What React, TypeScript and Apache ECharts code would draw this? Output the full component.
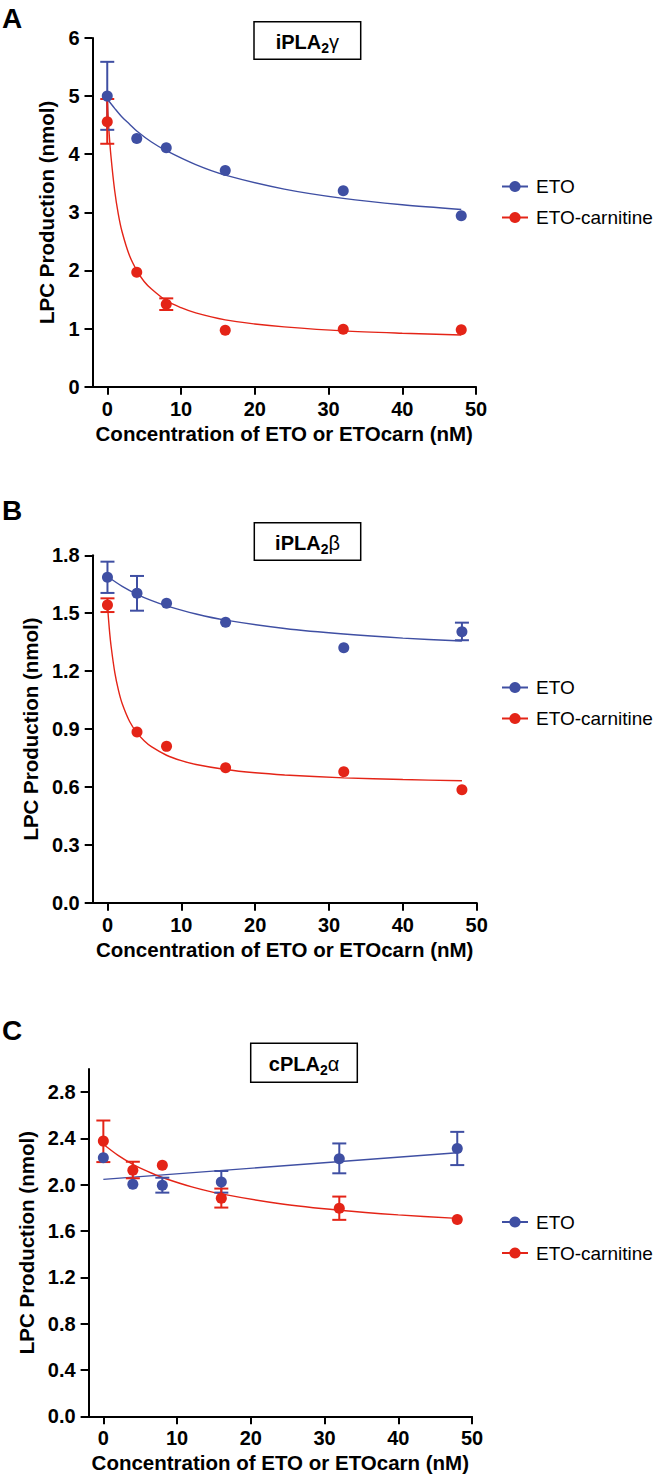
import React, { useEffect, useRef } from 'react';
import * as echarts from 'echarts';

const BLUE = '#3F4FA3';
const RED = '#E42417';
const FONT = '"Liberation Sans", Arial, Helvetica, sans-serif';

// shared concentrations (nM)
const conc = [0, 4, 8, 16, 32, 48];
const xTicks = [0, 10, 20, 30, 40, 50];

// ---------- Panel A : iPLA2γ ----------
const aYTicks = [0, 1, 2, 3, 4, 5, 6];
const aEto = [5.0, 4.27, 4.11, 3.72, 3.37, 2.94];
const aCarn = [4.56, 1.97, 1.42, 0.97, 0.99, 0.98];
const aEtoErr = [[0, 4.42, 5.59]];
const aCarnErr = [[0, 4.18, 4.95], [8, 1.32, 1.52]];
const aEtoFitX = [0, 1, 2, 3, 4, 6, 8, 12, 16, 24, 32, 40, 48];
const aEtoFitY = [4.95, 4.79, 4.64, 4.52, 4.40, 4.21, 4.06, 3.82, 3.64, 3.40, 3.24, 3.13, 3.05];
const aCarnFitX = [0, 0.25, 0.5, 1, 1.5, 2, 3, 4, 5, 6, 8, 10, 12, 16, 20, 24, 32, 40, 48];
const aCarnFitY = [4.9, 4.37, 3.97, 3.38, 2.97, 2.67, 2.26, 2.0, 1.81, 1.68, 1.48, 1.36, 1.27, 1.15, 1.08, 1.03, 0.96, 0.92, 0.89];

// ---------- Panel B : iPLA2β ----------
const bYTicks = [0, 0.3, 0.6, 0.9, 1.2, 1.5, 1.8];
const bEto = [1.686, 1.603, 1.551, 1.453, 1.321, 1.404];
const bCarn = [1.542, 0.884, 0.81, 0.699, 0.679, 0.585];
const bEtoErr = [[0, 1.605, 1.767], [4, 1.513, 1.693], [48, 1.36, 1.451]];
const bCarnErr = [[0, 1.506, 1.577]];
const bEtoFitX = [0, 2, 4, 6, 8, 12, 16, 24, 32, 40, 48];
const bEtoFitY = [1.69, 1.639, 1.598, 1.565, 1.538, 1.496, 1.464, 1.421, 1.392, 1.371, 1.356];
const bCarnFitX = [0, 0.25, 0.5, 1, 1.5, 2, 3, 4, 5, 6, 8, 10, 12, 16, 20, 24, 32, 40, 48];
const bCarnFitY = [1.54, 1.419, 1.326, 1.191, 1.099, 1.031, 0.939, 0.88, 0.838, 0.807, 0.764, 0.736, 0.716, 0.69, 0.673, 0.662, 0.647, 0.638, 0.632];

// ---------- Panel C : cPLA2α ----------
const cYTicks = [0, 0.4, 0.8, 1.2, 1.6, 2.0, 2.4, 2.8];
const cEto = [2.233, 2.004, 1.996, 2.024, 2.225, 2.314];
const cCarn = [2.377, 2.125, 2.168, 1.884, 1.798, 1.7];
const cEtoErr = [[8, 1.932, 2.061], [16, 1.932, 2.119], [32, 2.099, 2.357], [48, 2.17, 2.457]];
const cCarnErr = [[0, 2.196, 2.555], [4, 2.056, 2.199], [16, 1.803, 1.967], [32, 1.697, 1.898]];
const cEtoFitX = [0, 48];
const cEtoFitY = [2.047, 2.276];
const cCarnFitX = [0, 2, 4, 6, 8, 12, 16, 24, 32, 40, 48];
const cCarnFitY = [2.35, 2.254, 2.177, 2.115, 2.063, 1.982, 1.921, 1.836, 1.78, 1.74, 1.71];

const zip = (xs: number[], ys: number[]) => xs.map((x, i) => [x, ys[i]]);

const panels = [
  {
    letter: 'A', letterY: 18, title: 'iPLA', greek: 'γ',
    box: { x: 254, y: 21.7, w: 106.7, h: 37.6 },
    grid: { left: 92.5, top: 38, width: 383.5, height: 348.7 },
    yMax: 6, yTicks: aYTicks, digits: 0, legendTop: 172,
    eto: aEto, carn: aCarn, etoErr: aEtoErr, carnErr: aCarnErr,
    etoFit: zip(aEtoFitX, aEtoFitY), carnFit: zip(aCarnFitX, aCarnFitY),
  },
  {
    letter: 'B', letterY: 510, title: 'iPLA', greek: 'β',
    box: { x: 254.3, y: 522.7, w: 106.4, h: 37.6 },
    grid: { left: 92.7, top: 555.3, width: 384, height: 347.4 },
    yMax: 1.8, yTicks: bYTicks, digits: 1, legendTop: 673,
    eto: bEto, carn: bCarn, etoErr: bEtoErr, carnErr: bCarnErr,
    etoFit: zip(bEtoFitX, bEtoFitY), carnFit: zip(bCarnFitX, bCarnFitY),
  },
  {
    letter: 'C', letterY: 1030, title: 'cPLA', greek: 'α',
    box: { x: 250.7, y: 1043.3, w: 106.6, h: 39 },
    grid: { left: 88.6, top: 1069, width: 383.4, height: 347.3 },
    yMax: 3.0, yTicks: cYTicks, digits: 1, legendTop: 1207.5,
    eto: cEto, carn: cCarn, etoErr: cEtoErr, carnErr: cCarnErr,
    etoFit: zip(cEtoFitX, cEtoFitY), carnFit: zip(cCarnFitX, cCarnFitY),
  },
];

const errRender = (color: string) => (params: any, api: any) => {
  const x = api.value(0);
  const lo = api.coord([x, api.value(1)]);
  const hi = api.coord([x, api.value(2)]);
  const w = 7;
  const style = { stroke: color, lineWidth: 2, fill: 'none' };
  return {
    type: 'group',
    children: [
      { type: 'line', shape: { x1: lo[0], y1: lo[1], x2: hi[0], y2: hi[1] }, style },
      { type: 'line', shape: { x1: lo[0] - w, y1: lo[1], x2: lo[0] + w, y2: lo[1] }, style },
      { type: 'line', shape: { x1: hi[0] - w, y1: hi[1], x2: hi[0] + w, y2: hi[1] }, style },
    ],
  };
};

function buildOption() {
  const axisLine = { show: true, onZero: false, lineStyle: { color: '#000', width: 2 } };
  const axisTickBase = { show: true, length: 8, lineStyle: { color: '#000', width: 2 } };
  const labelBase = { color: '#000', fontSize: 20, fontWeight: 'bold', fontFamily: FONT };
  const nameStyle = { color: '#000', fontSize: 20.5, fontWeight: 'bold', fontFamily: FONT };

  const grid: any[] = [];
  const xAxis: any[] = [];
  const yAxis: any[] = [];
  const legend: any[] = [];
  const curveSeries: any[] = [];
  const errSeries: any[] = [];
  const pointSeries: any[] = [];
  const graphic: any[] = [];

  panels.forEach((p, i) => {
    grid.push({ ...p.grid, containLabel: false });
    xAxis.push({
      type: 'value', gridIndex: i, min: -2, max: 50,
      axisLine, splitLine: { show: false },
      axisTick: { ...axisTickBase, customValues: xTicks },
      axisLabel: { ...labelBase, margin: 12, customValues: xTicks },
      name: 'Concentration of ETO or ETOcarn (nM)', nameLocation: 'middle', nameGap: 36,
      nameTextStyle: nameStyle,
    });
    yAxis.push({
      type: 'value', gridIndex: i, min: 0, max: p.yMax,
      axisLine, splitLine: { show: false },
      axisTick: { ...axisTickBase, customValues: p.yTicks },
      axisLabel: {
        ...labelBase, margin: 13, customValues: p.yTicks,
        formatter: (v: number) => v.toFixed(p.digits),
      },
      name: 'LPC Production (nmol)', nameLocation: 'middle', nameGap: 27,
      nameTextStyle: nameStyle,
    });
    legend.push({
      orient: 'vertical', left: 496, top: p.legendTop,
      itemWidth: 26, itemHeight: 14, itemGap: 12,
      selectedMode: false,
      data: ['ETO', 'ETO-carnitine'],
      textStyle: { fontSize: 19, color: '#000', fontFamily: FONT, lineHeight: 19, padding: [0, 0, 0, 3] },
    });
    curveSeries.push(
      {
        type: 'line', name: 'ETO', xAxisIndex: i, yAxisIndex: i, data: p.etoFit,
        symbol: 'circle', showSymbol: false, smooth: 0.3, silent: true,
        lineStyle: { color: BLUE, width: 1.4 }, itemStyle: { color: BLUE }, z: 2,
      },
      {
        type: 'line', name: 'ETO-carnitine', xAxisIndex: i, yAxisIndex: i, data: p.carnFit,
        symbol: 'circle', showSymbol: false, smooth: 0.3, silent: true,
        lineStyle: { color: RED, width: 1.4 }, itemStyle: { color: RED }, z: 2,
      },
    );
    errSeries.push(
      {
        type: 'custom', name: 'ETO error', xAxisIndex: i, yAxisIndex: i, data: p.etoErr,
        encode: { x: 0, y: [1, 2] }, renderItem: errRender(BLUE), silent: true, z: 3,
      },
      {
        type: 'custom', name: 'ETO-carnitine error', xAxisIndex: i, yAxisIndex: i, data: p.carnErr,
        encode: { x: 0, y: [1, 2] }, renderItem: errRender(RED), silent: true, z: 3,
      },
    );
    pointSeries.push(
      {
        type: 'scatter', name: 'ETO', xAxisIndex: i, yAxisIndex: i, data: zip(conc, p.eto),
        symbol: 'circle', symbolSize: 11, itemStyle: { color: BLUE, opacity: 1 }, silent: true, z: 4,
      },
      {
        type: 'scatter', name: 'ETO-carnitine', xAxisIndex: i, yAxisIndex: i, data: zip(conc, p.carn),
        symbol: 'circle', symbolSize: 11, itemStyle: { color: RED, opacity: 1 }, silent: true, z: 4,
      },
    );
    graphic.push(
      {
        type: 'text', left: 2, top: p.letterY - 14,
        style: { text: p.letter, fontSize: 28, fontWeight: 'bold', fontFamily: FONT, fill: '#000' },
      },
      {
        type: 'rect', shape: { x: p.box.x, y: p.box.y, width: p.box.w, height: p.box.h },
        style: { fill: '#fff', stroke: '#000', lineWidth: 1.5 },
      },
      {
        type: 'text', x: p.box.x + p.box.w / 2, y: p.box.y + p.box.h / 2 + 1,
        style: {
          text: `{m|${p.title}}{s|2}{g|${p.greek}}`,
          align: 'center', verticalAlign: 'middle',
          rich: {
            m: { fontSize: 20, fontWeight: 'bold', fontFamily: FONT, fill: '#000', lineHeight: 26, verticalAlign: 'middle' },
            s: { fontSize: 14, fontWeight: 'bold', fontFamily: FONT, fill: '#000', lineHeight: 26, verticalAlign: 'bottom' },
            g: { fontSize: 20, fontWeight: 'normal', fontFamily: FONT, fill: '#000', lineHeight: 26, verticalAlign: 'middle' },
          },
        },
      },
    );
  });

  return {
    animation: false,
    backgroundColor: '#fff',
    grid, xAxis, yAxis, legend,
    series: [...curveSeries, ...errSeries, ...pointSeries],
    graphic,
  };
}

export default function App() {
  const ref = useRef<HTMLDivElement>(null);
  useEffect(() => {
    const chart = echarts.init(ref.current!, null, { renderer: 'svg' });
    chart.setOption(buildOption() as any);
    return () => chart.dispose();
  }, []);
  return (
    <div
      ref={ref}
      style={{ position: 'absolute', left: 0, top: 0, width: 659, height: 1475, background: '#fff' }}
    />
  );
}
